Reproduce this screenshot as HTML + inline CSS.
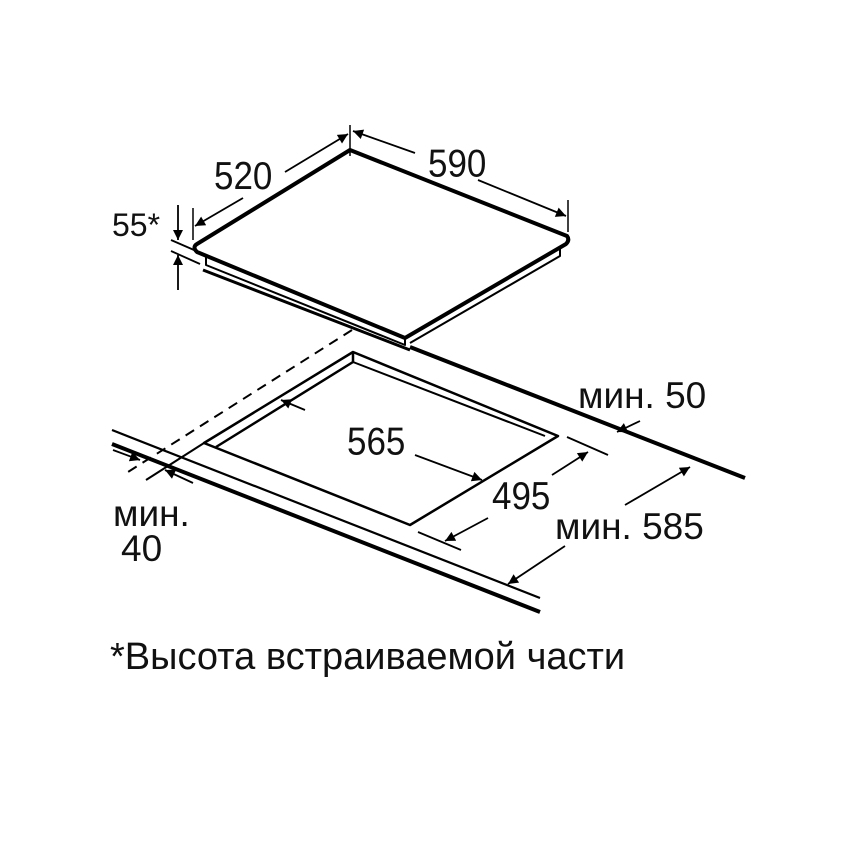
<!DOCTYPE html>
<html><head><meta charset="utf-8"><style>
html,body{margin:0;padding:0;background:#fff;}
svg{display:block;}
text{font-family:"Liberation Sans",sans-serif;fill:#111;}
</style></head><body>
<svg width="850" height="850" viewBox="0 0 850 850" xmlns="http://www.w3.org/2000/svg">
<defs>
<marker id="b" viewBox="0 0 10 10" refX="10" refY="5" markerWidth="17" markerHeight="10" markerUnits="userSpaceOnUse" orient="auto-start-reverse">
<path d="M0,0 L10,5 L0,10 Z" fill="#000"/></marker>
</defs>
<g stroke="#000" fill="none" stroke-linejoin="round">
<path d="M350,150 L567,236 Q570,240 566,244 L405,338 L197,252 Q192,247 197,244 Z" stroke-width="4" fill="#fff"/>
<path d="M206,256 L206,265 L405,345 L405,338" stroke-width="2"/>
<path d="M566,244 L560,248 L560,256 L410,343" stroke-width="2"/>
<path d="M203,270 L410,350" stroke-width="3"/>
<path d="M410,347 L745,478" stroke-width="4"/>
<path d="M112,430 L540,598" stroke-width="2.2"/>
<path d="M112,444 L540,612" stroke-width="4"/>
<path d="M352,330 L128,472" stroke-width="2" stroke-dasharray="10,7"/>
<path d="M353,352 L558,436 L410,525 L204,443 Z" stroke-width="2.5"/>
<path d="M353,352 L353,362 L216,447" stroke-width="2.5"/>
<path d="M353,362 L545,436" stroke-width="2"/>
<path d="M204,443 L146,480" stroke-width="2"/>
<path d="M193,208 L193,240" stroke-width="1.5"/>
<path d="M350,125 L350,156" stroke-width="1.5"/>
<path d="M568,200 L568,232" stroke-width="1.5"/>
<path d="M243,198 L195,226" stroke-width="1.8" marker-end="url(#b)"/>
<path d="M285,172 L348,134" stroke-width="1.8" marker-end="url(#b)"/>
<path d="M415,153 L353,131" stroke-width="1.8" marker-end="url(#b)"/>
<path d="M478,180 L566,216" stroke-width="1.8" marker-end="url(#b)"/>
<path d="M178,205 L178,240" stroke-width="1.8" marker-end="url(#b)"/>
<path d="M178,290 L178,255" stroke-width="1.8" marker-end="url(#b)"/>
<path d="M171,240 L194,250" stroke-width="1.8"/>
<path d="M171,251 L200,264" stroke-width="1.8"/>
<path d="M305,410 L281,400" stroke-width="1.8" marker-end="url(#b)"/>
<path d="M415,455 L482,480" stroke-width="1.8" marker-end="url(#b)"/>
<path d="M418,532 L461,550" stroke-width="1.8"/>
<path d="M567,437 L608,455" stroke-width="1.8"/>
<path d="M488,518 L445,541" stroke-width="1.8" marker-end="url(#b)"/>
<path d="M552,475 L588,452" stroke-width="1.8" marker-end="url(#b)"/>
<path d="M640,421 L617,432" stroke-width="1.8" marker-end="url(#b)"/>
<path d="M565,546 L508,584" stroke-width="1.8" marker-end="url(#b)"/>
<path d="M625,505 L690,467" stroke-width="1.8" marker-end="url(#b)"/>
<path d="M113,450 L140,460" stroke-width="1.8" marker-end="url(#b)"/>
<path d="M193,483 L165,470" stroke-width="1.8" marker-end="url(#b)"/>
</g>
<g font-size="35">
<text x="214" y="189" transform="translate(0,-19) scale(1,1.1)" font-size="35">520</text>
<text x="428" y="177" transform="translate(0,-18) scale(1,1.1)">590</text>
<text x="112" y="236" font-size="32">55*</text>
<text x="347" y="454" transform="translate(0,-45) scale(1,1.1)">565</text>
<text x="492" y="509" transform="translate(0,-51) scale(1,1.1)">495</text>
<text x="578" y="408" font-size="37">мин. 50</text>
<text x="555" y="539" font-size="37">мин. 585</text>
<text x="113" y="526" font-size="37">мин.</text>
<text x="121" y="561" font-size="37">40</text>
<text x="110" y="669" font-size="38">*Высота встраиваемой части</text>
</g>
</svg>
</body></html>
